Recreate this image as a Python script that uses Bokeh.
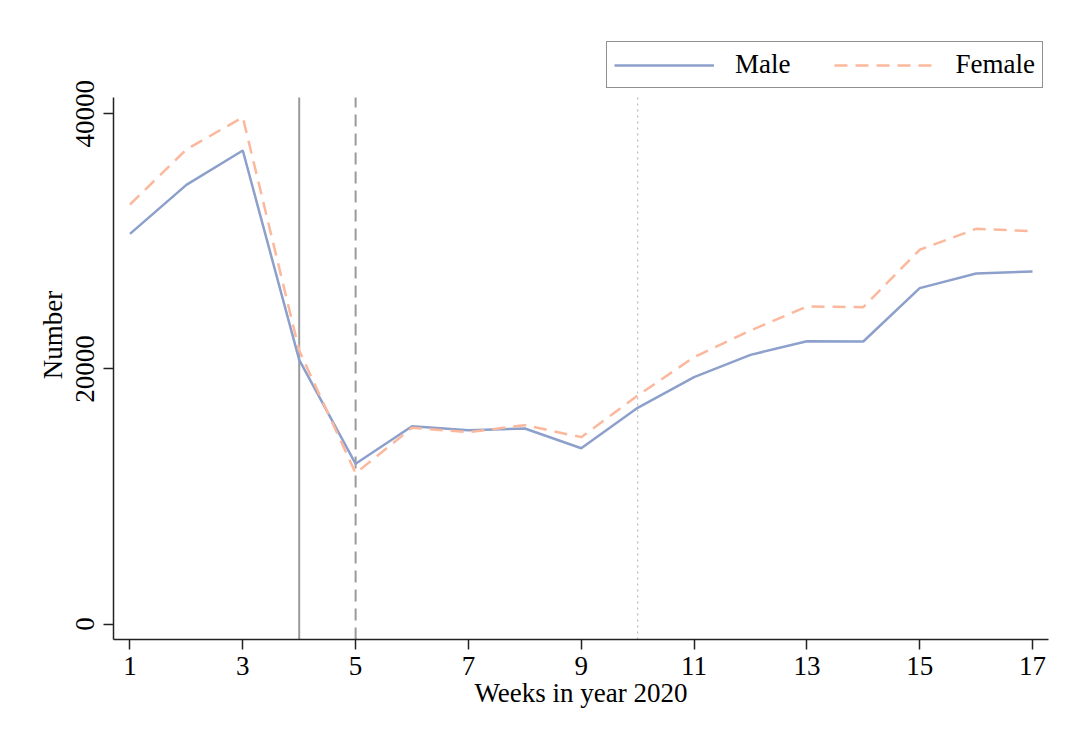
from bokeh.plotting import figure
from bokeh.models import Range1d, Legend, LegendItem, FixedTicker
from bokeh.embed import file_html
from bokeh.resources import INLINE

weeks = list(range(1, 18))
male = [30590, 34430, 37120, 20710, 12560, 15510, 15190, 15330, 13780,
        16950, 19350, 21100, 22170, 22150, 26330, 27480, 27640]
female = [32890, 37200, 39730, 21440, 11820, 15380, 15040, 15590, 14650,
          17910, 20920, 23010, 24890, 24840, 29340, 30980, 30800]
x_ticks = [1, 3, 5, 7, 9, 11, 13, 15, 17]
y_ticks = [0, 20000, 40000]
event_weeks = [4, 5, 10]
series_names = ["Male", "Female"]

FONT = "Liberation Serif"
FS = "27px"

# plot-region limits (axis extent) and extended top room for the legend
Y_LO, Y_HI = -1215, 41280
Y_TOP = 46530

p = figure(width=1056, height=720, output_backend="svg", toolbar_location=None,
           x_range=Range1d(0.708, 17.283), y_range=Range1d(Y_LO, Y_TOP),
           min_border_left=113, min_border_right=8, min_border_top=30, min_border_bottom=81)
p.outline_line_color = None
p.grid.grid_line_color = None
p.background_fill_color = "white"
p.border_fill_color = "white"

styles = [dict(line_color="#9a9a9a", line_width=2, line_dash="solid"),
          dict(line_color="#9a9a9a", line_width=2, line_dash="12 7"),
          dict(line_color="#b8b8b8", line_width=1.2, line_dash="2 4")]
for wk, st in zip(event_weeks, styles):
    p.segment(x0=[wk], y0=[Y_LO], x1=[wk], y1=[Y_HI], **st)

r_m = p.line(weeks, male, line_color="#8da0cb", line_width=2.5)
r_f = p.line(weeks, female, line_color="#fcb89c", line_width=2.5, line_dash="13 8")

for ax in (p.xaxis, p.yaxis):
    ax.axis_line_color = "#222222"
    ax.axis_line_width = 1.5
    ax.major_tick_line_color = "#222222"
    ax.major_tick_line_width = 1.5
    ax.major_tick_out = 10
    ax.major_tick_in = 0
    ax.minor_tick_line_color = None
    ax.major_label_text_font = FONT
    ax.major_label_text_font_size = FS
    ax.major_label_text_color = "black"
    ax.axis_label_text_font = FONT
    ax.axis_label_text_font_size = FS
    ax.axis_label_text_font_style = "normal"
    ax.axis_label_text_color = "black"

p.yaxis.bounds = (Y_LO, Y_HI)
p.xaxis.ticker = FixedTicker(ticks=x_ticks)
p.yaxis.ticker = FixedTicker(ticks=y_ticks)
p.yaxis.major_label_orientation = "vertical"
p.xaxis.axis_label = "Weeks in year 2020"
p.yaxis.axis_label = "Number"
p.xaxis.major_label_standoff = 7
p.xaxis.axis_label_standoff = 0
p.yaxis.major_label_standoff = 9
p.yaxis.axis_label_standoff = 6

legend = Legend(items=[LegendItem(label=series_names[0], renderers=[r_m]),
                       LegendItem(label=series_names[1], renderers=[r_f])],
                orientation="horizontal", location=(493, 551),
                glyph_width=100, glyph_height=20, label_standoff=21, spacing=44,
                padding=7, margin=0, label_text_font=FONT, label_text_font_size=FS,
                label_text_color="black", border_line_color="#222222",
                border_line_width=1.5, background_fill_color="white",
                background_fill_alpha=1.0)
p.add_layout(legend, "center")

open("out.html", "w").write(file_html(p, INLINE))
